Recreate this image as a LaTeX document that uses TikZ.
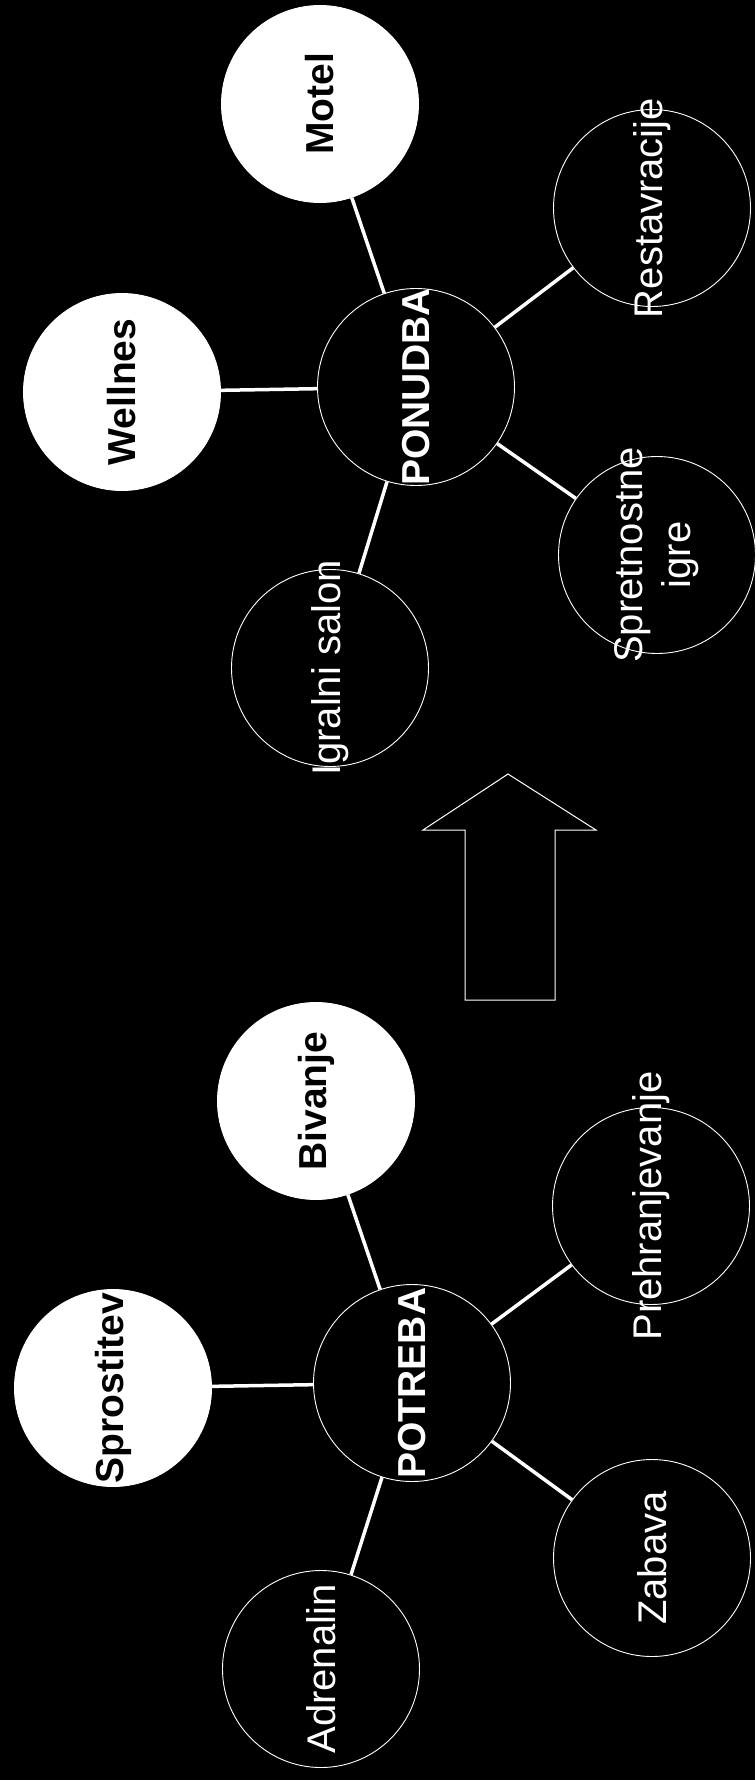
\documentclass[tikz,border=0pt]{standalone}
\usepackage{fontspec}
\setmainfont{Liberation Sans}
\begin{document}
\begin{tikzpicture}[x=1pt,y=-1pt,
  bub/.style={circle, draw=white, line width=0.9pt, fill=black, minimum size=197pt, inner sep=0pt},
  fullbub/.style={circle, draw=white, line width=0.9pt, fill=white, minimum size=197pt, inner sep=0pt},
  wtxt/.style={text=white, rotate=90, inner sep=0pt, font=\fontsize{40}{48}\selectfont, align=center},
  wbtxt/.style={text=white, rotate=90, inner sep=0pt, font=\fontsize{39}{46}\selectfont\bfseries},
  btxt/.style={text=black, rotate=90, inner sep=0pt, font=\fontsize{39}{46}\selectfont\bfseries},
  link/.style={white, line width=3.5pt}]
\fill[black] (0,0) rectangle (755,1780);
\useasboundingbox (0,0) rectangle (755,1780);
% upper group
\node[bub] (ponudba) at (416,387) {};
\node[fullbub] (motel) at (320,104) {};
\node[fullbub] (wellnes) at (122,392) {};
\node[bub] (restavracije) at (652,208) {};
\node[bub] (spretnostne) at (657,555) {};
\node[bub] (igralni) at (330,668) {};
% lower group
\node[bub] (potreba) at (412,1383) {};
\node[fullbub] (bivanje) at (316,1101) {};
\node[fullbub] (sprostitev) at (113,1388) {};
\node[bub] (prehranjevanje) at (651,1206) {};
\node[bub] (zabava) at (652,1558) {};
\node[bub] (adrenalin) at (321,1669) {};
% connectors
\draw[link] (ponudba) -- (motel);
\draw[link] (ponudba) -- (wellnes);
\draw[link] (ponudba) -- (restavracije);
\draw[link] (ponudba) -- (spretnostne);
\draw[link] (ponudba) -- (igralni);
\draw[link] (potreba) -- (bivanje);
\draw[link] (potreba) -- (sprostitev);
\draw[link] (potreba) -- (prehranjevanje);
\draw[link] (potreba) -- (zabava);
\draw[link] (potreba) -- (adrenalin);
% texts
\node[wbtxt] (tponudba) at (ponudba.center) {PONUDBA};
\node[btxt] (tmotel) at (motel.center) {Motel};
\node[btxt] (twellnes) at (wellnes.center) {Wellnes};
\node[wtxt] (trest) at (restavracije.center) {Restavracije};
\node[wtxt] (tspret) at (spretnostne.center) {Spretnostne\\igre};
\node[wtxt] (tigr) at (igralni.center) {Igralni salon};
\node[wbtxt] (tpotreba) at (potreba.center) {POTREBA};
\node[btxt] (tbiv) at (bivanje.center) {Bivanje};
\node[btxt] (tspro) at (sprostitev.center) {Sprostitev};
\node[wtxt] (tpreh) at (prehranjevanje.center) {Prehranjevanje};
\node[wtxt] (tzab) at (zabava.center) {Zabava};
\node[wtxt] (tadr) at (adrenalin.center) {Adrenalin};
% block arrow
\draw[white, line width=1pt, line join=miter] (465,1000) -- (465,830) -- (423,830) -- (508,774) -- (596,830) -- (555,830) -- (555,1000) -- cycle;
\end{tikzpicture}
\end{document}
